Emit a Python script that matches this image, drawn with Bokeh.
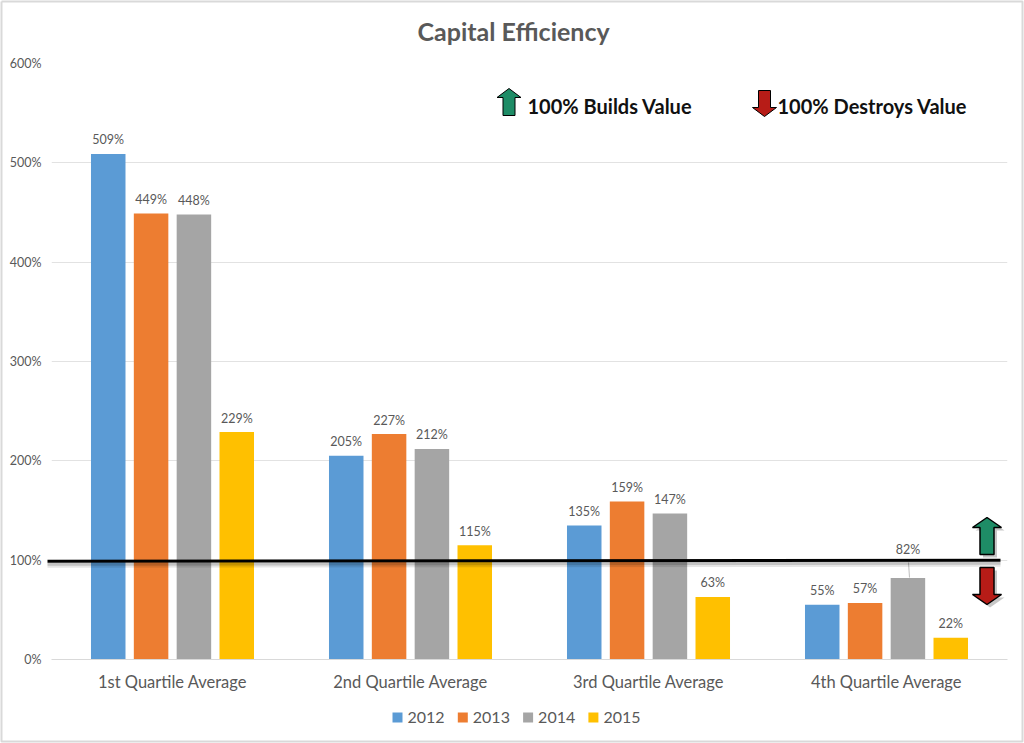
from bokeh.plotting import figure
from bokeh.embed import file_html
from bokeh.resources import INLINE
from bokeh.models import (ColumnDataSource, FactorRange, Range1d, FixedTicker, PrintfTickFormatter,
                          Label, PolyAnnotation)
from bokeh.transform import dodge
from bokeh.core.properties import value

chart_title = "Capital Efficiency"
quartiles = ["1st Quartile Average", "2nd Quartile Average", "3rd Quartile Average", "4th Quartile Average"]
years = ["2012", "2013", "2014", "2015"]
v2012 = [509, 205, 135, 55]
v2013 = [449, 227, 159, 57]
v2014 = [448, 212, 147, 82]
v2015 = [229, 115, 63, 22]
colors = ["#5B9BD5", "#ED7D31", "#A5A5A5", "#FFC000"]
y_ticks = [0, 100, 200, 300, 400, 500, 600]
threshold_left = 99
threshold_right = 100

W, H = 1024, 743
F_L, F_T, F_R, F_B = 51, 63, 1007, 659   # frame edges in page pixels
STEP = 238                               # pixels per category
PAD = ((F_R - F_L) / STEP - 4) / 2       # range padding in factor units
TXT = "#595959"
FONT = "Lato"

p = figure(width=W, height=H, output_backend="svg", toolbar_location=None,
           x_range=FactorRange(factors=quartiles, range_padding=PAD, range_padding_units="absolute",
                               factor_padding=0),
           y_range=Range1d(0, 600), min_border_left=F_L, min_border_right=W - F_R,
           min_border_top=F_T, min_border_bottom=H - F_B,
           background_fill_color="white", border_fill_color="white", outline_line_color=None)

def dx(px):
    return (px - F_L) / STEP - PAD

def dy(py):
    return (F_B - py) / (F_B - F_T) * 600

p.text(x=[dx(417)], y=[dy(30)], text=[chart_title], text_font=value(FONT), text_font_size="25px",
       text_font_style="bold", text_color=TXT, text_baseline="middle", text_align="left", level="overlay")

p.xgrid.visible = False
p.ygrid.grid_line_color = "#E2E2E2"
p.ygrid.ticker = FixedTicker(ticks=y_ticks)
p.yaxis.ticker = FixedTicker(ticks=y_ticks)
p.yaxis.formatter = PrintfTickFormatter(format="%d%%")
p.yaxis.axis_line_color = None
p.yaxis.major_tick_line_color = None
p.yaxis.minor_tick_line_color = None
p.yaxis.major_tick_out = 0
p.yaxis.major_tick_in = 0
p.yaxis.major_label_text_color = TXT
p.yaxis.major_label_text_font = FONT
p.yaxis.major_label_text_font_size = "12.5px"
p.yaxis.major_label_standoff = 10
p.xaxis.axis_line_color = "#D9D9D9"
p.xaxis.major_tick_line_color = None
p.xaxis.minor_tick_line_color = None
p.xaxis.major_tick_out = 0
p.xaxis.major_tick_in = 0
p.xaxis.major_label_text_color = TXT
p.xaxis.major_label_text_font = FONT
p.xaxis.major_label_text_font_size = "16.5px"
p.xaxis.major_label_standoff = 12

series = [v2012, v2013, v2014, v2015]
offsets = [-0.27, -0.09, 0.09, 0.27]
for yr, vals, col, off in zip(years, series, colors, offsets):
    src = ColumnDataSource(dict(q=quartiles, v=vals, lab=[f"{v}%" for v in vals],
                                shift=[-29 if (yr == "2014" and i == 3) else -14 for i in range(4)]))
    p.vbar(x=dodge("q", off, range=p.x_range), top="v", width=0.145, source=src,
           fill_color=col, line_color=None)
    p.text(x=dodge("q", off, range=p.x_range), y="v", text="lab", source=src, y_offset="shift",
           text_align="center", text_baseline="middle", text_color=TXT,
           text_font=value(FONT), text_font_size="12.5px")

# leader line of the moved 82% label
p.line(x=[dx(908), dx(909)], y=[dy(562), dy(577)], line_color="#BFBFBF", line_width=1)

# legend row below the axis
for i, (yr, col) in enumerate(zip(years, colors)):
    left = 392 + i * 65.3
    p.quad(left=[dx(left)], right=[dx(left + 10)], top=[dy(712)], bottom=[dy(722)],
           fill_color=col, line_color=None, level="overlay")
    p.text(x=[dx(left + 15)], y=[dy(717)], text=[yr], text_font=value(FONT), text_font_size="16px",
           text_color=TXT, text_baseline="middle", text_align="left", level="overlay")

# threshold line with soft shadow
for off, w, a in [(4, 5, 0.10), (3, 3, 0.15)]:
    p.line(x=[dx(47), dx(1000)], y=[threshold_left - off, threshold_right - off], line_color="#000000",
           line_width=w, line_alpha=a, level="overlay")
p.line(x=[dx(47), dx(1000)], y=[threshold_left, threshold_right], line_color="#000000",
       line_width=3, level="overlay")

def up(cx, half_head, half_shaft, top, base, bottom):
    return [cx, cx + half_head, cx + half_shaft, cx + half_shaft, cx - half_shaft, cx - half_shaft, cx - half_head], \
           [top, base, base, bottom, bottom, base, base]

def arrow(xs, ys, fill, lw, shadow=True):
    if shadow:
        p.add_layout(PolyAnnotation(xs=[dx(a + 3) for a in xs], ys=[dy(b + 3) for b in ys],
                                    fill_color="#000000", fill_alpha=0.22, line_color=None, level="overlay"))
    p.add_layout(PolyAnnotation(xs=[dx(a) for a in xs], ys=[dy(b) for b in ys], fill_color=fill, fill_alpha=1,
                                line_color="#000000", line_width=lw, line_alpha=1, level="overlay"))

GREEN, RED = "#1E8C66", "#B71C17"
xs, ys = up(986.5, 14.5, 7, 517, 527, 554)
arrow(xs, ys, GREEN, 1.5)
xs, ys = up(986.5, 14.5, 7, 604, 594, 567)
arrow(xs, ys, RED, 1.5)
xs, ys = up(508.5, 12, 6, 88, 97, 115)
arrow(xs, ys, GREEN, 1, shadow=False)
xs, ys = up(764, 12, 6, 116, 107, 90)
arrow(xs, ys, RED, 1, shadow=False)

for txt, px in [("100% Builds Value", 527), ("100% Destroys Value", 777)]:
    p.add_layout(Label(x=dx(px), y=dy(105), text=txt, text_font=FONT, text_font_size="20px",
                       text_font_style="bold", text_color="#111111", text_baseline="middle",
                       text_align="left", level="overlay"))

# chart frame
bx = [1, 1022, 1022, 1, 1]
by = [1, 1, 741, 741, 1]
p.line(x=[dx(a) for a in bx], y=[dy(b) for b in by], line_color="#D9D9D9", line_width=2, level="overlay")

open("out.html", "w").write(file_html(p, INLINE))
